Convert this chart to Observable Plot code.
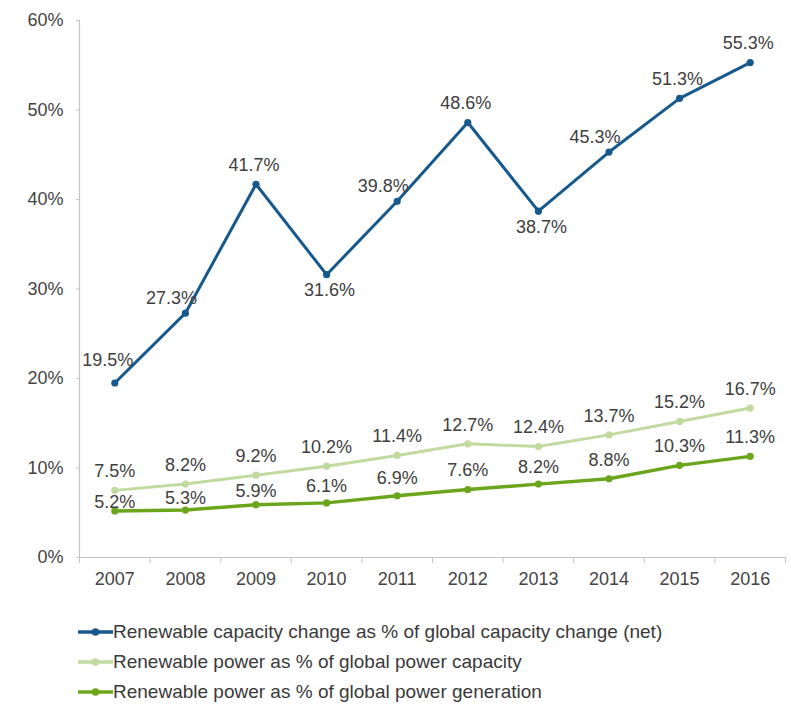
<!DOCTYPE html>
<html>
<head>
<meta charset="utf-8">
<script src="https://cdn.jsdelivr.net/npm/d3@7"></script>
<script src="https://cdn.jsdelivr.net/npm/@observablehq/plot@0.6"></script>
<style>
  body { margin: 0; background: #fff; font-family: "Liberation Sans", Arial, sans-serif; }
  #legend { padding-left: 78px; padding-top: 17px; }
  .row { display: flex; align-items: center; height: 30px; font-size: 19px; color: #3a3a3a; }
  .row svg { margin-right: 0px; }
</style>
</head>
<body>
<div id="chart"></div>
<div id="legend"></div>
<script>
const years = [2007, 2008, 2009, 2010, 2011, 2012, 2013, 2014, 2015, 2016];
const capacityChange = [19.5, 27.3, 41.7, 31.6, 39.8, 48.6, 38.7, 45.3, 51.3, 55.3];
const powerCapacity = [7.5, 8.2, 9.2, 10.2, 11.4, 12.7, 12.4, 13.7, 15.2, 16.7];
const powerGeneration = [5.2, 5.3, 5.9, 6.1, 6.9, 7.6, 8.2, 8.8, 10.3, 11.3];
const seriesNames = [
  "Renewable capacity change as % of global capacity change (net)",
  "Renewable power as % of global power capacity",
  "Renewable power as % of global power generation"
];
const colors = ["#17598d", "#c0daa0", "#6ba51c"];
const yTicks = [0, 10, 20, 30, 40, 50, 60];

const seriesValues = [capacityChange, powerCapacity, powerGeneration];
const data = seriesValues.flatMap((vals, s) => vals.map((v, i) => ({
  series: seriesNames[s], s, i, year: years[i], value: v
})));

// label placement derived from data shape
function labelOffset(d) {
  if (d.s === 0) {
    const vals = capacityChange;
    const prev = vals[d.i - 1], next = vals[d.i + 1];
    if (prev !== undefined && next !== undefined && d.value < prev && d.value < next) return {dx: 3, dy: 16};
    if (d.i === 0) return {dx: -7, dy: -23};
    if (next !== undefined && next - d.value > 5) return {dx: -14, dy: -15};
    return {dx: -2, dy: -19};
  }
  if (d.s === 1) return {dx: 0, dy: -19};
  const gap = powerCapacity[d.i] - powerGeneration[d.i];
  return {dx: 0, dy: -Math.min(19, gap * 4)};
}
data.forEach(d => Object.assign(d, labelOffset(d)));

const boundaries = d3.range(years.length + 1).map(i => years[0] - 0.5 + i);
const font = "18px";

const marks = [
  Plot.ruleY([0], {stroke: "#c4c4c4", strokeWidth: 1.2}),
  Plot.ruleX([boundaries[0]], {stroke: "#c4c4c4", strokeWidth: 1.2}),
  Plot.axisY({ticks: yTicks, tickFormat: d => d + "%", tickSize: 3, tickPadding: 13,
    fontSize: font, color: "#444", stroke: "#c4c4c4", label: null}),
  Plot.axisX({ticks: boundaries, tickFormat: () => "", tickSize: 6, stroke: "#c4c4c4", label: null}),
  Plot.axisX({ticks: years, tickFormat: d => String(d), tickSize: 0, tickPadding: 15,
    fontSize: font, color: "#444", label: null}),
];
seriesNames.forEach((name, s) => {
  const rows = data.filter(d => d.s === s);
  marks.push(Plot.line(rows, {x: "year", y: "value", stroke: colors[s], strokeWidth: s === 2 ? 3.4 : 3, strokeLinejoin: "round"}));
  marks.push(Plot.dot(rows, {x: "year", y: "value", r: 3.6, fill: colors[s]}));
});
seriesNames.forEach((name, s) => {
  const rows = data.filter(d => d.s === s);
  rows.forEach(d => {
    marks.push(Plot.text([d], {x: "year", y: "value", text: d => d.value.toFixed(1) + "%",
      dx: d.dx, dy: d.dy, fontSize: font, fill: "#404040"}));
  });
});

const chart = Plot.plot({
  width: 791,
  height: 600,
  marginLeft: 79,
  marginRight: 6,
  marginTop: 20,
  marginBottom: 43,
  style: {fontFamily: "'Liberation Sans', Arial, sans-serif", background: "#fff"},
  x: {type: "linear", domain: [boundaries[0], boundaries[boundaries.length - 1]]},
  y: {type: "linear", domain: [0, 60]},
  marks
});
document.getElementById("chart").appendChild(chart);

const legend = d3.select("#legend");
seriesNames.forEach((name, s) => {
  const row = legend.append("div").attr("class", "row");
  const sw = row.append("svg").attr("width", 35).attr("height", 14);
  sw.append("line").attr("x1", 0).attr("x2", 35).attr("y1", 7).attr("y2", 7)
    .attr("stroke", colors[s]).attr("stroke-width", 3.5);
  sw.append("circle").attr("cx", 17.5).attr("cy", 7).attr("r", 3.8).attr("fill", colors[s]);
  row.append("span").text(name);
});
</script>
</body>
</html>
